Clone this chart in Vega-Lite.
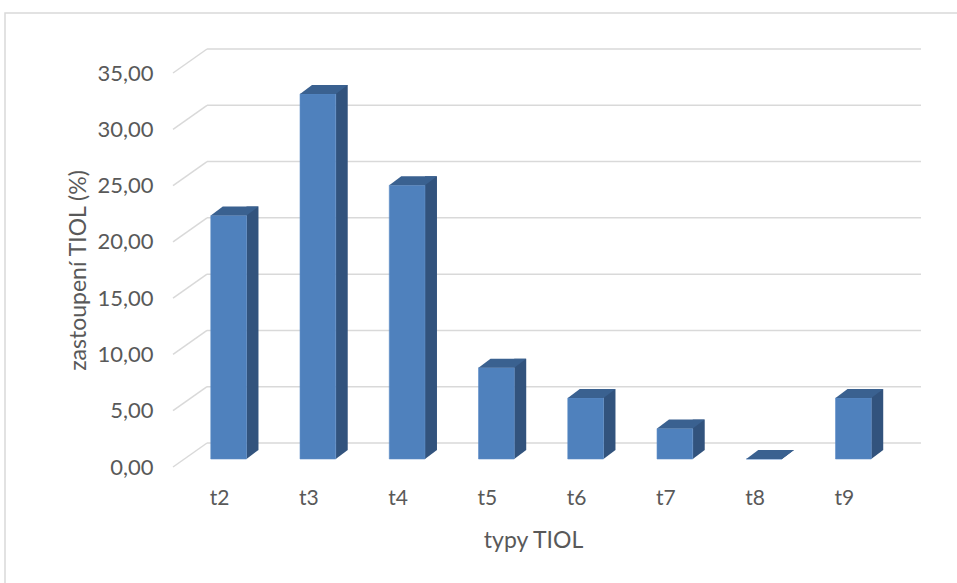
{
  "$schema": "https://vega.github.io/schema/vega-lite/v6.json",
  "width": 962,
  "height": 580,
  "autosize": {"type": "none"},
  "padding": {"left": 5, "top": 13, "right": -10, "bottom": -10},
  "background": "white",
  "config": {
    "view": {"stroke": "#d9d9d9", "strokeWidth": 1.5},
    "font": "Lato",
    "locale": {"number": {"decimal": ",", "thousands": " ", "grouping": [3], "currency": ["", " Kč"]}}
  },
  "datasets": {
    "ticks": [{"v": 0}, {"v": 5}, {"v": 10}, {"v": 15}, {"v": 20}, {"v": 25}, {"v": 30}, {"v": 35}],
    "typy": [
      {"typ": "t2", "pct": 21.62},
      {"typ": "t3", "pct": 32.43},
      {"typ": "t4", "pct": 24.32},
      {"typ": "t5", "pct": 8.11},
      {"typ": "t6", "pct": 5.41},
      {"typ": "t7", "pct": 2.70},
      {"typ": "t8", "pct": 0},
      {"typ": "t9", "pct": 5.41}
    ]
  },
  "encoding": {
    "x": {
      "field": "typ", "type": "nominal",
      "scale": {"domain": ["t2", "t3", "t4", "t5", "t6", "t7", "t8", "t9"], "range": [179, 893], "paddingInner": 0.6, "paddingOuter": 0.3},
      "axis": {
        "orient": "bottom", "offset": -134, "domain": false, "ticks": false, "tickSize": 0,
        "labelAngle": 0, "labelPadding": 39, "labelBaseline": "middle", "labelOffset": -9,
        "labelFont": "Lato", "labelFontSize": 21, "labelColor": "#595959",
        "title": "typy TIOL", "titleFont": "Lato", "titleFontSize": 23, "titleFontWeight": "normal",
        "titleColor": "#595959", "titleX": 528, "titleY": 81, "titleBaseline": "middle", "titleAlign": "center"
      }
    },
    "y": {
      "type": "quantitative",
      "scale": {"domain": [0, 35], "range": [446, 52], "nice": false, "zero": true},
      "axis": {
        "orient": "left", "offset": -179, "domain": false, "ticks": false, "tickSize": 0, "grid": false,
        "values": [0, 5, 10, 15, 20, 25, 30, 35], "format": ".2f",
        "labelPadding": 31, "labelOffset": 8, "labelFont": "Lato", "labelFontSize": 22, "labelColor": "#595959",
        "title": "zastoupení TIOL (%)", "titleFont": "Lato", "titleFontSize": 23, "titleFontWeight": "normal",
        "titleColor": "#595959", "titleX": -106, "titleY": 257, "titleAngle": -90,
        "titleBaseline": "middle", "titleAlign": "center"
      }
    }
  },
  "layer": [
    {
      "data": {"name": "ticks"},
      "mark": {"type": "rule", "color": "#d9d9d9", "strokeWidth": 1.5, "xOffset": -21.6, "x2Offset": 67.6, "yOffset": -16},
      "encoding": {
        "x": {"datum": "t2"},
        "x2": {"datum": "t9"},
        "y": {"field": "v"}
      }
    },
    {
      "data": {"name": "ticks"},
      "mark": {"type": "rule", "color": "#d9d9d9", "strokeWidth": 1.5, "xOffset": -55.6, "x2Offset": -21.6, "yOffset": 8, "y2Offset": -16},
      "encoding": {
        "x": {"datum": "t2"},
        "x2": {"datum": "t2"},
        "y": {"field": "v"},
        "y2": {"field": "v"}
      }
    },
    {
      "data": {"name": "typy"},
      "mark": {"type": "bar", "color": "#32537d", "width": 12, "xOffset": 23.85, "yOffset": -9, "y2Offset": -9},
      "encoding": {
        "y": {"field": "pct"},
        "y2": {"datum": 0}
      }
    },
    {
      "data": {"name": "typy"},
      "mark": {"type": "point", "filled": true, "opacity": 1, "color": "#32537d", "size": 4, "shape": "M17.85,-9L17.85,0L29.85,-9Z"},
      "encoding": {
        "y": {"datum": 0}
      }
    },
    {
      "data": {"name": "typy"},
      "mark": {"type": "bar", "color": "#4f81bd", "stroke": "#5b8cc6", "strokeWidth": 0.6},
      "encoding": {
        "y": {"field": "pct"},
        "y2": {"datum": 0}
      }
    },
    {
      "data": {"name": "typy"},
      "mark": {"type": "point", "filled": true, "opacity": 1, "color": "#3a6190", "size": 4, "shape": "M-17.85,0L17.85,0L29.85,-9L-5.85,-9Z"},
      "encoding": {
        "y": {"field": "pct"}
      }
    }
  ]
}
